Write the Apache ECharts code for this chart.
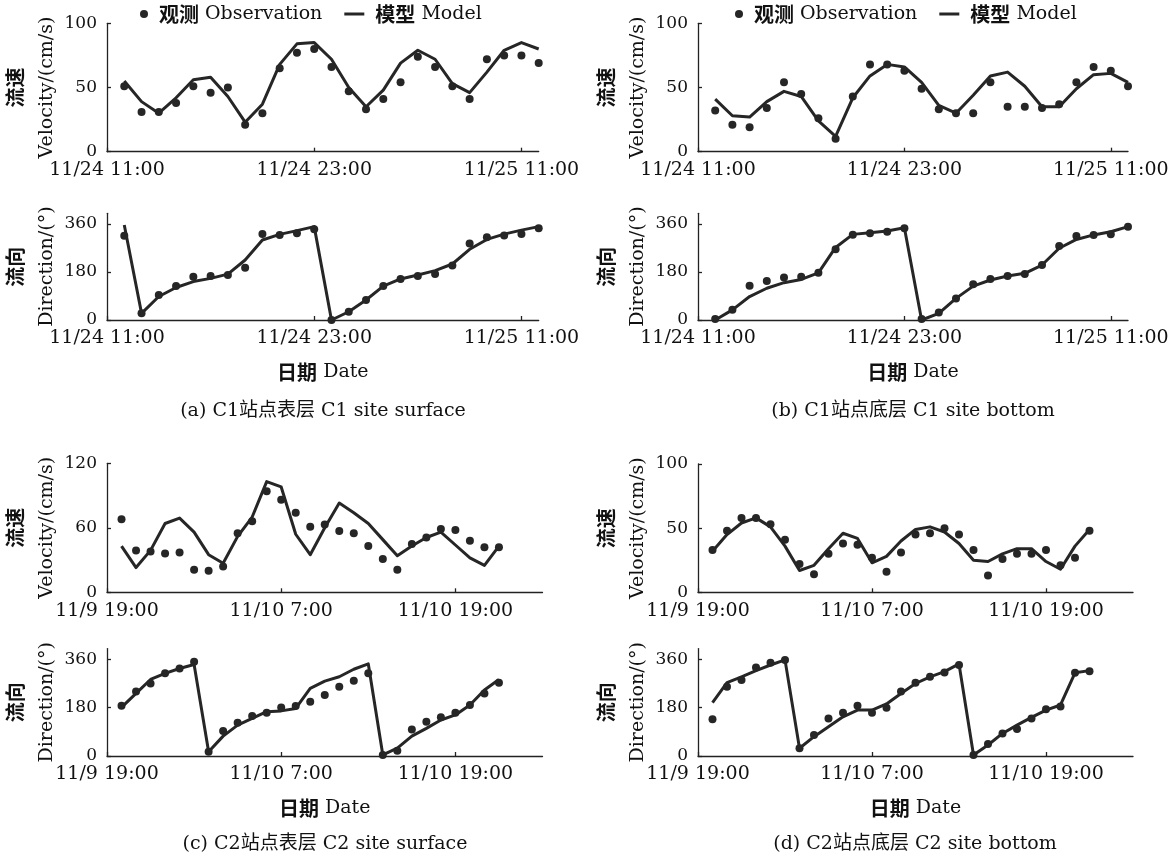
<!DOCTYPE html>
<html>
<head>
  <meta charset="utf-8">
  <title>流速流向验证</title>
  <script src="https://cdn.jsdelivr.net/npm/echarts@6/dist/echarts.min.js"></script>
  <style>
    html, body { margin: 0; padding: 0; background: #fff; }
  </style>
</head>
<body>
  <div id="main" style="width: 1176px;height:857px;"></div>
  <script type="text/javascript">
    // hours after the first tick (11/24 11:00 for C1, 11/9 19:00 for C2)
    var hoursC1 = [1, 2, 3, 4, 5, 6, 7, 8, 9, 10, 11, 12, 13, 14, 15, 16, 17, 18, 19, 20, 21, 22, 23, 24, 25];
    var hoursC2 = [1, 2, 3, 4, 5, 6, 7, 8, 9, 10, 11, 12, 13, 14, 15, 16, 17, 18, 19, 20, 21, 22, 23, 24, 25, 26, 27];

    var tickHours = [0, 12, 24];
    var tickLabelsC1 = ['11/24 11:00', '11/24 23:00', '11/25 11:00'];
    var tickLabelsC2 = ['11/9 19:00', '11/10 7:00', '11/10 19:00'];

    // (a) C1 surface
    var velObsC1s = [51, 31, 31, 38, 51, 46, 50, 21, 30, 65, 77, 80, 66, 47, 33, 41, 54, 74, 66, 51, 41, 72, 75, 75, 69];
    var velModC1s = [55, 39, 30, 42, 56, 58, 43, 23, 37, 68, 84, 85, 72, 50, 35, 48, 69, 79, 72, 53, 46, 62, 79, 85, 80];
    var dirObsC1s = [316, 25, 94, 127, 162, 165, 169, 196, 322, 319, 325, 340, 0, 31, 75, 127, 154, 165, 172, 204, 287, 310, 317, 322, 344];
    var dirModC1s = [356, 25, 88, 122, 144, 156, 172, 225, 300, 321, 335, 350, 0, 31, 75, 127, 154, 169, 185, 210, 265, 302, 322, 337, 350];

    // (b) C1 bottom
    var velObsC1b = [32, 21, 19, 34, 54, 45, 26, 10, 43, 68, 68, 63, 49, 33, 30, 30, 54, 35, 35, 34, 37, 54, 66, 63, 51];
    var velModC1b = [41, 28, 27, 39, 47, 43, 24, 12, 42, 59, 68, 66, 54, 36, 30, 44, 59, 62, 51, 35, 35, 49, 60, 61, 54];
    var dirObsC1b = [4, 38, 128, 146, 159, 162, 177, 265, 320, 325, 331, 344, 4, 28, 81, 134, 154, 165, 172, 206, 277, 315, 319, 321, 350];
    var dirModC1b = [0, 38, 88, 119, 140, 152, 177, 272, 321, 327, 334, 346, 0, 25, 81, 127, 150, 165, 175, 206, 269, 302, 319, 331, 350];

    // (c) C2 surface
    var velObsC2s = [68, 39, 38, 36, 37, 21, 20, 24, 55, 66, 94, 86, 74, 61, 63, 57, 55, 43, 31, 21, 45, 51, 59, 58, 48, 42, 42];
    var velModC2s = [43, 23, 39, 64, 69, 56, 35, 27, 52, 70, 103, 98, 54, 35, 60, 83, 74, 64, 49, 34, 43, 51, 56, 44, 32, 25, 43];
    var dirObsC2s = [187, 240, 270, 308, 326, 351, 16, 93, 124, 149, 161, 181, 186, 202, 227, 258, 280, 308, 4, 20, 99, 128, 144, 161, 190, 233, 273];
    var dirModC2s = [181, 233, 285, 308, 326, 341, 16, 74, 115, 140, 165, 168, 177, 252, 279, 295, 323, 343, 4, 29, 74, 103, 134, 153, 190, 246, 285];

    // (d) C2 bottom
    var velObsC2b = [33, 48, 58, 58, 53, 41, 22, 14, 30, 38, 37, 27, 16, 31, 45, 46, 50, 45, 33, 13, 26, 30, 30, 33, 21, 27, 48];
    var velModC2b = [32, 45, 54, 58, 51, 36, 17, 21, 34, 46, 42, 23, 28, 40, 49, 51, 47, 38, 25, 24, 30, 34, 34, 24, 18, 36, 49];
    var dirObsC2b = [137, 258, 283, 330, 347, 358, 29, 78, 140, 161, 187, 161, 180, 240, 273, 295, 311, 339, 4, 45, 84, 101, 140, 174, 184, 310, 316];
    var dirModC2b = [199, 273, 295, 318, 339, 358, 29, 72, 109, 146, 171, 171, 194, 233, 270, 295, 314, 343, 4, 41, 84, 115, 144, 171, 190, 310, 318];

    var captions = ['(a) C1站点表层 C1 site surface', '(b) C1站点底层 C1 site bottom',
                    '(c) C2站点表层 C2 site surface', '(d) C2站点底层 C2 site bottom'];

    var OBS = '观测 Observation';
    var MOD = '模型 Model';
    var LATIN = "'DejaVu Serif', 'Noto Sans CJK SC', serif";
    var CJK = "'Noto Sans CJK SC', sans-serif";
    var INK = '#111';
    var MARK = '#262626';

    var myChart = echarts.init(document.getElementById('main'), null, { renderer: 'canvas' });

    // one entry per sub-plot: grid box, x range, y range, data
    var plots = [
      { grid: { left: 107, top: 23.3, width: 431.7, height: 128.4 }, xmax: 25, labels: tickLabelsC1, hours: hoursC1, ymax: 100, yticks: [0, 50, 100], kind: 'vel', obs: velObsC1s, mod: velModC1s },
      { grid: { left: 107, top: 213.3, width: 431.7, height: 106.7 }, xmax: 25, labels: tickLabelsC1, hours: hoursC1, ymax: 400, yticks: [0, 180, 360], kind: 'dir', obs: dirObsC1s, mod: dirModC1s },
      { grid: { left: 698, top: 23.3, width: 430, height: 128.4 }, xmax: 25, labels: tickLabelsC1, hours: hoursC1, ymax: 100, yticks: [0, 50, 100], kind: 'vel', obs: velObsC1b, mod: velModC1b },
      { grid: { left: 698, top: 213.3, width: 430, height: 106.7 }, xmax: 25, labels: tickLabelsC1, hours: hoursC1, ymax: 400, yticks: [0, 180, 360], kind: 'dir', obs: dirObsC1b, mod: dirModC1b },
      { grid: { left: 107, top: 463.3, width: 435.5, height: 129 }, xmax: 30, labels: tickLabelsC2, hours: hoursC2, ymax: 120, yticks: [0, 60, 120], kind: 'vel', obs: velObsC2s, mod: velModC2s },
      { grid: { left: 107, top: 648.6, width: 435.5, height: 107.4 }, xmax: 30, labels: tickLabelsC2, hours: hoursC2, ymax: 400, yticks: [0, 180, 360], kind: 'dir', obs: dirObsC2s, mod: dirModC2s },
      { grid: { left: 698, top: 464, width: 435, height: 128.3 }, xmax: 30, labels: tickLabelsC2, hours: hoursC2, ymax: 100, yticks: [0, 50, 100], kind: 'vel', obs: velObsC2b, mod: velModC2b },
      { grid: { left: 698, top: 648.6, width: 435, height: 107.4 }, xmax: 30, labels: tickLabelsC2, hours: hoursC2, ymax: 400, yticks: [0, 180, 360], kind: 'dir', obs: dirObsC2b, mod: dirModC2b }
    ];

    var nameRich = {
      a: { fontFamily: CJK, fontWeight: 'bold', fontSize: 20, color: INK, lineHeight: 32, align: 'center' },
      b: { fontFamily: LATIN, fontSize: 19, color: INK, lineHeight: 32, align: 'center' }
    };
    var axisLine = { lineStyle: { color: '#222', width: 1.3 } };
    var axisTick = { inside: true, length: 4, lineStyle: { color: '#222', width: 1.3 } };

    function pairs(xs, ys) {
      return xs.map(function (x, i) { return [x, ys[i]]; });
    }

    var grids = [], xAxes = [], yAxes = [], series = [];
    plots.forEach(function (p, i) {
      grids.push(p.grid);
      xAxes.push({
        type: 'value', gridIndex: i, min: 0, max: p.xmax,
        axisLine: axisLine,
        axisTick: Object.assign({ customValues: tickHours }, axisTick),
        axisLabel: {
          customValues: tickHours, margin: 9,
          fontFamily: LATIN, fontSize: 19, color: INK,
          formatter: function (v) { var k = tickHours.indexOf(v); return k >= 0 ? p.labels[k] : ''; }
        },
        splitLine: { show: false },
        name: p.kind === 'dir' ? '{a|日期}{b| Date}' : '',
        nameLocation: 'middle', nameGap: 40,
        nameTextStyle: { rich: { a: Object.assign({}, nameRich.a, { lineHeight: 24 }), b: Object.assign({}, nameRich.b, { lineHeight: 24 }) } }
      });
      yAxes.push({
        type: 'value', gridIndex: i, min: 0, max: p.ymax,
        axisLine: Object.assign({ show: true }, axisLine),
        axisTick: Object.assign({ show: true, customValues: p.yticks }, axisTick),
        axisLabel: { customValues: p.yticks, margin: 10, fontFamily: LATIN, fontSize: 17, color: INK },
        splitLine: { show: false },
        name: p.kind === 'vel' ? '{a|流速}\n{b|Velocity/(cm/s)}' : '{a|流向}\n{b|Direction/(°)}',
        nameLocation: 'middle', nameRotate: 90, nameGap: 44,
        nameTextStyle: { rich: nameRich }
      });
      series.push({
        type: 'scatter', name: OBS, xAxisIndex: i, yAxisIndex: i,
        data: pairs(p.hours, p.obs), symbolSize: 8, z: 3,
        itemStyle: { color: MARK, opacity: 1 }
      });
      series.push({
        type: 'line', name: MOD, xAxisIndex: i, yAxisIndex: i,
        data: pairs(p.hours, p.mod), symbol: 'none', z: 2,
        lineStyle: { color: MARK, width: 3, join: 'round' },
        itemStyle: { color: MARK }
      });
    });

    function legendAt(left) {
      return {
        left: left, top: 4, padding: 0, itemGap: 22, itemWidth: 20, itemHeight: 8,
        data: [{ name: OBS, icon: 'circle' }, { name: MOD, icon: 'path://M0 0H40V6H0Z' }],
        formatter: function (name) {
          var parts = name.split(' ');
          return (name === MOD ? '{b| }' : '') + '{a|' + parts[0] + '}{b| ' + parts[1] + '}';
        },
        textStyle: {
          rich: {
            a: { fontFamily: CJK, fontWeight: 'bold', fontSize: 20, color: INK },
            b: { fontFamily: LATIN, fontSize: 19, color: INK }
          }
        }
      };
    }

    var captionPos = [[323, 402], [913, 402], [325, 835], [915, 835]];
    var titles = captions.map(function (t, i) {
      return {
        text: t, left: captionPos[i][0], top: captionPos[i][1], textAlign: 'center', padding: 0,
        textStyle: { fontFamily: LATIN, fontSize: 19, fontWeight: 'normal', color: INK }
      };
    });

    var option = {
      animation: false,
      backgroundColor: '#fff',
      title: titles,
      legend: [legendAt(140), legendAt(735)],
      grid: grids,
      xAxis: xAxes,
      yAxis: yAxes,
      series: series
    };

    myChart.setOption(option);
  </script>
</body>
</html>
